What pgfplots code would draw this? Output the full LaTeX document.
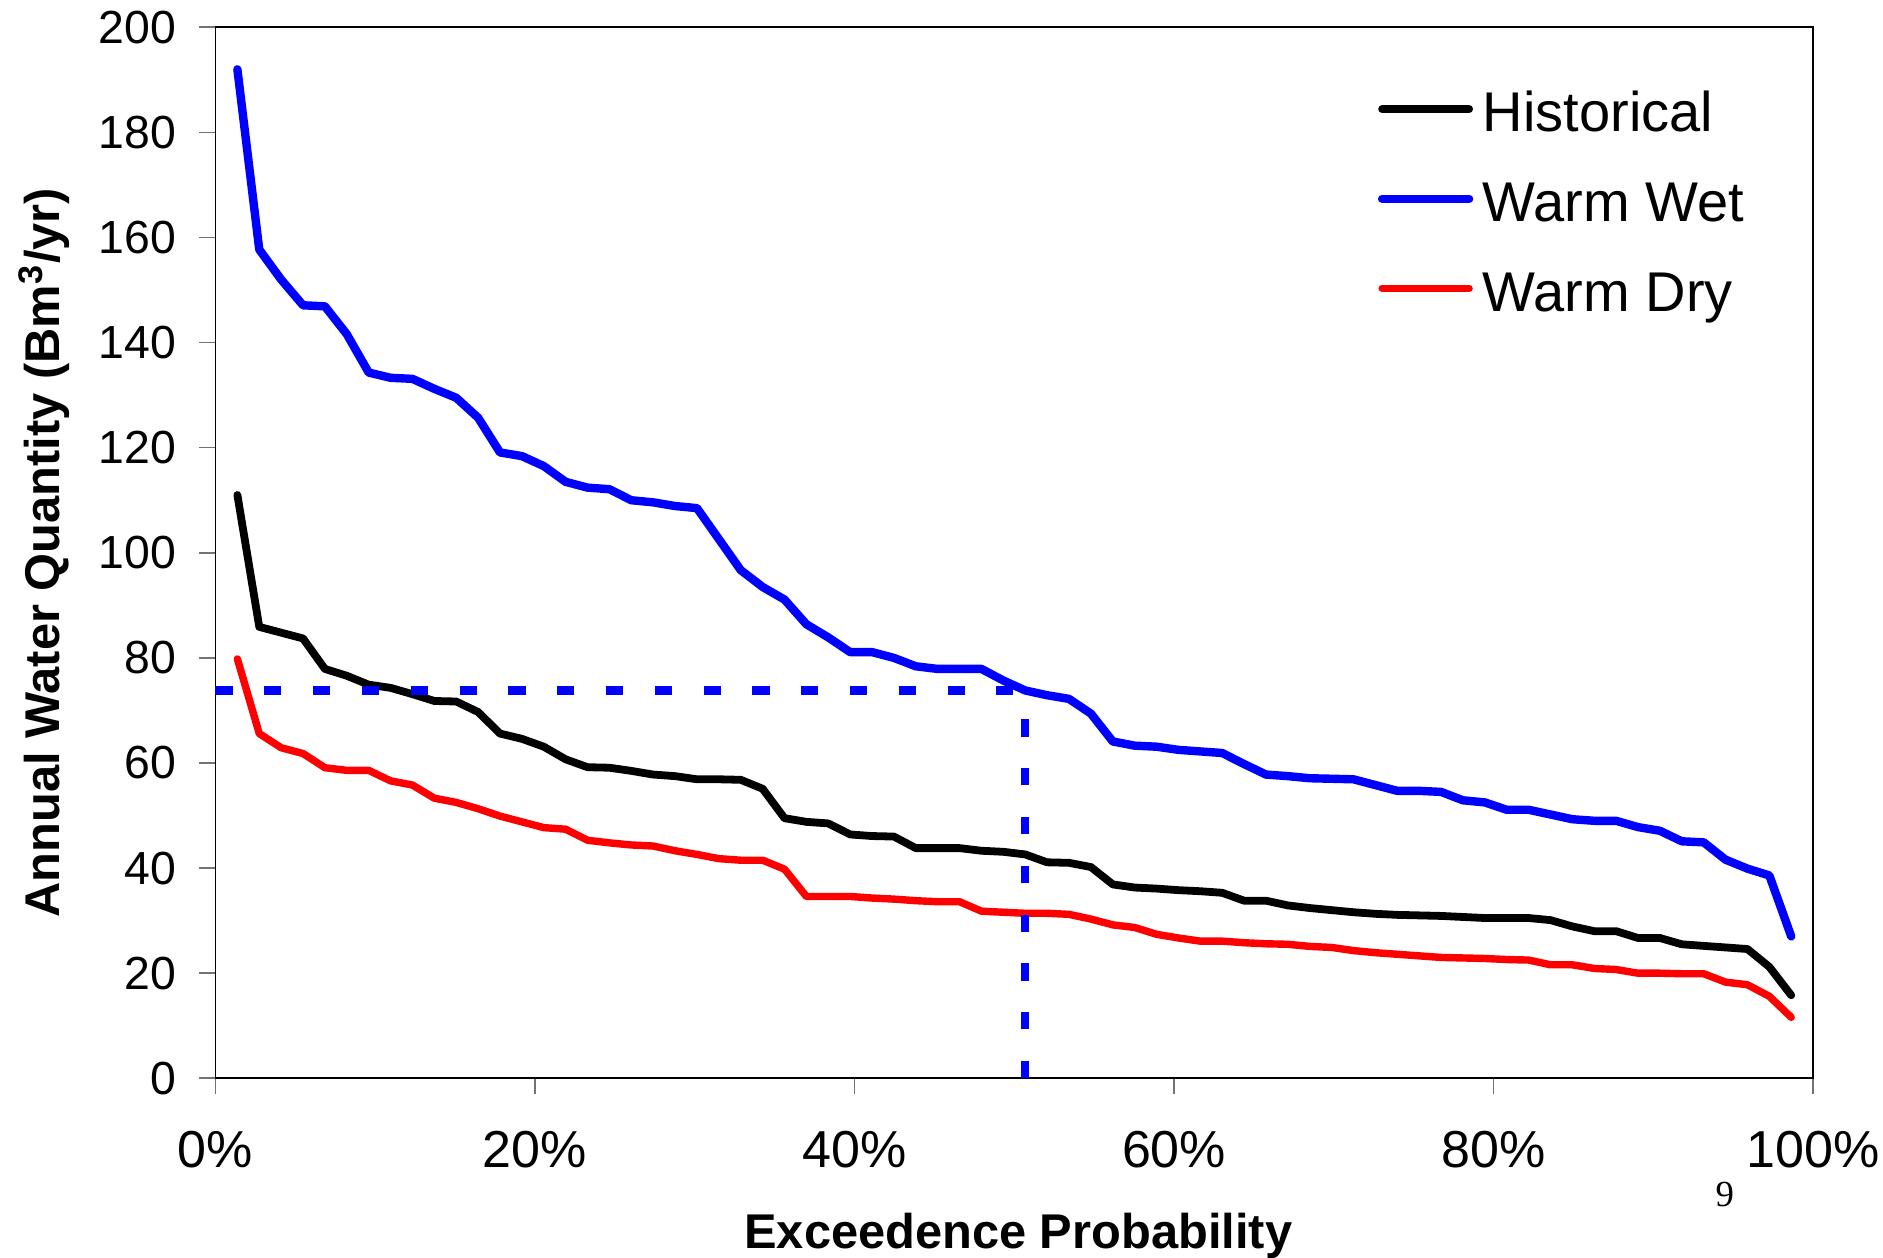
\documentclass[border=0pt]{standalone}
\usepackage{fontspec}
\setmainfont{Liberation Sans}
\newfontfamily\pagefont{Liberation Serif}
\usepackage{pgfplots}
\usepackage{pgfplotstable}
\pgfplotsset{compat=1.18}

% exceedence probability (%), annual water quantity (Bm3/yr)
\pgfplotstableread{
p      hist   wet    dry
1.370  111.0  192.0  79.8
2.740  85.9   157.7  65.6
4.110  84.8   152.0  62.9
5.479  83.7   147.1  61.8
6.849  77.9   146.9  59.1
8.219  76.6   141.6  58.6
9.589  74.9   134.3  58.6
10.959 74.3   133.3  56.6
12.329 73.1   133.1  55.8
13.699 71.8   131.2  53.3
15.068 71.7   129.5  52.5
16.438 69.7   125.7  51.3
17.808 65.6   119.1  49.9
19.178 64.6   118.4  48.8
20.548 63.1   116.5  47.7
21.918 60.7   113.5  47.4
23.288 59.2   112.4  45.3
24.658 59.1   112.1  44.8
26.027 58.5   110.0  44.4
27.397 57.8   109.6  44.2
28.767 57.5   108.9  43.3
30.137 56.9   108.5  42.6
31.507 56.9   102.6  41.8
32.877 56.8   96.7   41.5
34.247 55.1   93.5   41.5
35.616 49.5   91.1   39.8
36.986 48.8   86.4   34.6
38.356 48.5   83.9   34.6
39.726 46.4   81.1   34.6
41.096 46.1   81.1   34.3
42.466 46.0   80.0   34.1
43.836 43.8   78.4   33.8
45.205 43.8   77.9   33.6
46.575 43.8   77.9   33.6
47.945 43.3   77.9   31.8
49.315 43.1   75.7   31.6
50.685 42.6   73.8   31.4
52.055 41.1   72.9   31.4
53.425 41.0   72.2   31.2
54.795 40.2   69.4   30.3
56.164 36.9   64.1   29.2
57.534 36.3   63.3   28.7
58.904 36.1   63.1   27.4
60.274 35.8   62.5   26.7
61.644 35.6   62.2   26.1
63.014 35.3   61.9   26.1
64.384 33.8   59.8   25.8
65.753 33.8   57.8   25.6
67.123 32.9   57.5   25.5
68.493 32.4   57.1   25.1
69.863 32.0   57.0   24.9
71.233 31.6   56.9   24.3
72.603 31.3   55.8   23.9
73.973 31.1   54.7   23.6
75.342 31.0   54.7   23.3
76.712 30.9   54.5   23.0
78.082 30.7   52.9   22.9
79.452 30.5   52.5   22.8
80.822 30.5   51.1   22.6
82.192 30.5   51.1   22.5
83.562 30.1   50.2   21.6
84.932 28.9   49.3   21.6
86.301 28.0   49.0   20.9
87.671 28.0   49.0   20.7
89.041 26.7   47.8   20.0
90.411 26.7   47.1   20.0
91.781 25.5   45.1   19.9
93.151 25.2   44.9   19.9
94.521 24.9   41.6   18.3
95.890 24.6   39.9   17.8
97.260 21.2   38.6   15.6
98.630 15.8   27.0   11.6
}\flowdata

\begin{document}
\begin{tikzpicture}
\useasboundingbox (-53.875pt,-44.7pt) rectangle (416.875pt,269.575pt);
\begin{axis}[
    at={(0,0)}, anchor=south west,
    scale only axis,
    width=399.4pt, height=262.75pt,
    xmin=0, xmax=100, ymin=0, ymax=200,
    xtick={0,20,...,100},
    ytick={0,20,...,200},
    xticklabel={\pgfmathprintnumber{\tick}\%},
    /pgf/number format/assume math mode=true,
    tick align=outside, major tick length=4pt,
    tick pos=left,
    tick style={black!55, line width=0.4pt},
    axis line style={line width=0.4pt},
    xticklabel style={font=\fontsize{13}{15}\selectfont, anchor=north, inner sep=0pt},
    yticklabel style={font=\fontsize{11.6}{13}\selectfont, anchor=east, inner sep=0pt},
    xticklabel shift=8.95pt,
    yticklabel shift=5.7pt,
    xlabel={Exceedence Probability},
    ylabel={Annual Water Quantity (Bm\textsuperscript{3}/yr)},
    xlabel style={font=\bfseries\fontsize{12.2}{14}\selectfont,
        at={(axis description cs:0.5025,-0.16156)}, anchor=base},
    ylabel style={font=\bfseries\fontsize{12.2}{14}\selectfont,
        at={(axis description cs:-0.0974,0.5)}, anchor=base},
    clip=false,
    legend cell align=left,
    legend image code/.code={\draw[#1, line cap=round] (0pt,0pt) -- (21.75pt,0pt);},
    legend style={at={(axis description cs:0.7271,0.9446)}, anchor=north west,
        draw=none, fill=none, inner sep=0pt, row sep=11pt,
        font=\fontsize{14}{17}\selectfont,
        nodes={inner sep=0pt, text height=11.4pt, text depth=0pt},
        /tikz/every odd column/.append style={column sep=2.4pt}},
]
\addplot[black, line width=1.95pt, line cap=round, line join=round] table[x=p, y=hist] {\flowdata};
\addlegendentry{Historical}
\addplot[blue, line width=2.1pt, line cap=round, line join=round] table[x=p, y=wet] {\flowdata};
\addlegendentry{Warm Wet}
\addplot[red, line width=1.85pt, line cap=round, line join=round] table[x=p, y=dry] {\flowdata};
\addlegendentry{Warm Dry}
% median of the warm wet series
\addplot[blue, line width=2.1pt, dash pattern=on 4.3pt off 7.9pt, forget plot]
    coordinates {(0,73.8) (49.9,73.8)};
\addplot[blue, line width=2.1pt, dash pattern=on 4.3pt off 7.9pt, forget plot]
    coordinates {(50.685,0) (50.685,73.8)};
\node[font=\pagefont\fontsize{9.2}{10}\selectfont, anchor=base] at (axis cs:94.47,-24.45) {9};
\end{axis}
\end{tikzpicture}
\end{document}
